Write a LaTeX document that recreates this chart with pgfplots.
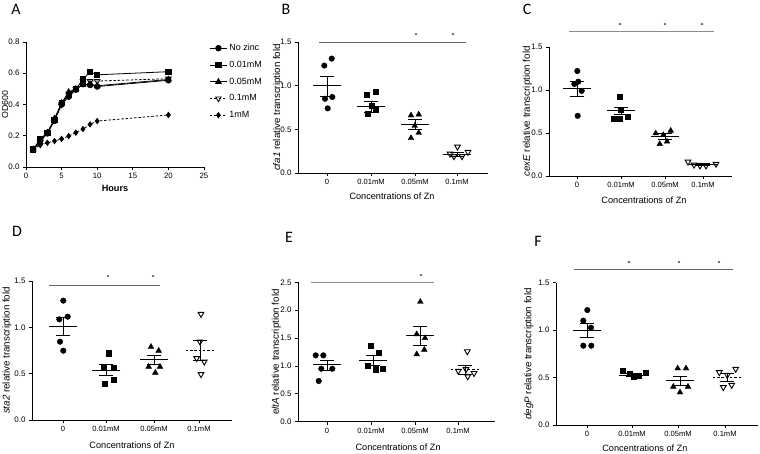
\documentclass[border=0pt]{standalone}
\usepackage{pgfplots}
\usepackage{pgfplotstable}
\pgfplotsset{compat=1.18}
\usepackage{fontspec}
\setmainfont{Liberation Sans}
\newfontfamily\letterfont{Carlito}

\pgfplotstableread{
t   nz     c01    c05    c1     m1
1   0.113  0.113  0.113  0.113  0.113
2   0.17   0.18   0.16   0.16   0.14
3   0.215  0.22   0.22   0.22   0.155
4   0.295  0.30   0.31   0.30   0.166
5   0.40   0.41   0.41   0.40   0.18
6   0.45   0.46   0.48   0.47   0.198
7   0.495  0.50   0.50   0.50   0.22
8   0.53   0.56   0.525  0.55   0.243
9   0.525  0.61   0.53   0.55   0.273
10  0.515  0.59   0.52   0.55   0.294
20  0.555  0.61   0.56   0.565  0.333
}\growth

\pgfplotsset{
  panel/.style={
    scale only axis, anchor=south west, axis lines=left,
    axis line style={-, line width=0.8bp},
    enlargelimits=false, clip=false, tick align=outside, major tick length=3bp,
    tick style={black, line width=0.8bp},
    /pgf/number format/assume math mode=true,
    yticklabel style={font=\fontsize{8}{9}\selectfont, /pgf/number format/fixed,
      /pgf/number format/fixed zerofill, /pgf/number format/precision=1},
    xticklabel style={font=\fontsize{7.6}{9}\selectfont},
    ylabel style={font=\fontsize{9.8}{11}\selectfont, anchor=center},
    xlabel style={font=\fontsize{9.2}{10}\selectfont, anchor=center},
  },
  cat/.style={panel, ymin=0, xticklabels={0,0.01mM,0.05mM,0.1mM},
    xlabel={Concentrations of Zn}},
  pc/.style={only marks, mark=*, mark size=2.8bp, black},
  ps/.style={only marks, mark=square*, mark size=2.6bp, black},
  pt/.style={only marks, mark=triangle*, mark size=3.3bp, black},
  pd/.style={only marks, mark=triangle, mark size=3.3bp, black, mark options={rotate=180, fill=white, line width=0.9bp}},
  mean/.style={only marks, mark=-, mark size=14bp, black, mark options={line width=1bp}},
  meand/.style={only marks, mark=-, mark size=14bp, black, mark options={line width=1bp, dash pattern=on 2.5bp off 1.8bp}},
  cap/.style={only marks, mark=-, mark size=7bp, black, mark options={line width=1bp}},
  semv/.style={black, line width=1bp, unbounded coords=jump},
  sig/.style={black!60, line width=0.8bp},
  star/.style={only marks, mark=asterisk, mark size=1.3bp, black!70},
}

\begin{document}
\begin{tikzpicture}
\path[use as bounding box] (0,0) rectangle (760bp,454bp);

% ---------- A ----------
\begin{axis}[panel, at={(26bp,287bp)}, width=178bp, height=125bp,
  xmin=0, xmax=25, ymin=0, ymax=0.8, xtick={0,5,10,15,20,25}, ytick={0,0.2,0.4,0.6,0.8},
  xticklabel style={font=\fontsize{7.8}{9}\selectfont},
  xlabel={\textbf{Hours}}, ylabel={OD600},
  xlabel style={at={(axis description cs:0.5,-0.168)}, font=\fontsize{9.2}{10}\selectfont},
  ylabel style={at={(axis description cs:-0.118,0.5)}, font=\fontsize{8.8}{10}\selectfont},
  legend style={at={(1.03,1.0)}, anchor=north west, draw=none, fill=none,
    font=\fontsize{9}{10}\selectfont, row sep=5bp, inner sep=0pt},
  legend cell align=left]
\addplot[black, line width=0.8bp, mark=*, mark size=2.8bp] table[x=t, y=nz] {\growth};
\addlegendentry{No zinc}
\addplot[black, line width=0.8bp, mark=square*, mark size=2.6bp] table[x=t, y=c01] {\growth};
\addlegendentry{0.01mM}
\addplot[black, line width=0.8bp, mark=triangle*, mark size=3.2bp] table[x=t, y=c05] {\growth};
\addlegendentry{0.05mM}
\addplot[black, line width=0.8bp, dash pattern=on 2.5bp off 1.8bp, mark=triangle, mark size=3.2bp, mark options={solid, rotate=180, fill=white}] table[x=t, y=c1] {\growth};
\addlegendentry{0.1mM}
\addplot[black, line width=0.8bp, dash pattern=on 2.5bp off 1.8bp, mark=diamond*, mark size=2.6bp, mark options={solid}] table[x=t, y=m1] {\growth};
\addlegendentry{1mM}
\end{axis}

% ---------- B ----------
\begin{axis}[cat, at={(298bp,281bp)}, width=190bp, height=131bp,
  xmin=298, xmax=488, ymax=1.5, xtick={327,371,415,457}, ytick={0,0.5,1,1.5},
  ylabel={\textit{cfa1} relative transcription fold},
  ylabel style={at={(axis description cs:-0.108,0.5)}},
  xlabel style={at={(axis description cs:0.495,-0.176)}}]
\addplot[sig] coordinates {(319,1.5)(466,1.5)};
\addplot[star] coordinates {(416,1.59)(453,1.59)};
\addplot[pc] coordinates {(324.3,1.23)(331.7,1.31)(325,0.85)(332.3,0.87)(327.7,0.74)};
\addplot[ps] coordinates {(366.7,0.90)(375.3,0.93)(372,0.77)(367.7,0.68)(375.3,0.73)};
\addplot[pt] coordinates {(411,0.66)(418.7,0.67)(414.7,0.54)(411,0.40)(418.7,0.46)};
\addplot[pd] coordinates {(450,0.22)(454,0.19)(457.5,0.30)(462,0.19)(468,0.24)};
\addplot[mean] coordinates {(327,1.0)(371,0.756)(415,0.553)(457,0.21)};
\addplot[cap] coordinates {(327,0.88)(327,1.11)(371,0.69)(371,0.82)(415,0.50)(415,0.61)(457,0.19)(457,0.24)};
\addplot[semv] coordinates {(327,0.88)(327,1.11)(nan,nan)(371,0.69)(371,0.82)(nan,nan)(415,0.50)(415,0.61)(nan,nan)(457,0.19)(457,0.24)};
\end{axis}

% ---------- C ----------
\begin{axis}[cat, at={(549bp,278bp)}, width=183bp, height=129bp,
  xmin=549, xmax=732, ymax=1.5, xtick={577,621,665,703}, ytick={0,0.5,1,1.5},
  ylabel={\textit{cexE} relative transcription fold},
  ylabel style={at={(axis description cs:-0.118,0.5)}},
  xlabel style={at={(axis description cs:0.519,-0.186)}}]
\addplot[sig, black!45] coordinates {(569,1.686)(714,1.686)};
\addplot[star] coordinates {(620,1.767)(665,1.767)(702,1.767)};
\addplot[pc] coordinates {(577.3,1.221)(574.3,1.07)(578.3,1.097)(581.7,0.99)(577.7,0.70)};
\addplot[ps] coordinates {(620,0.919)(620.7,0.767)(614,0.67)(620,0.663)(627.3,0.69)};
\addplot[pt] coordinates {(655.7,0.496)(663.3,0.477)(670.7,0.527)(659.7,0.372)(667,0.40)};
\addplot[pd] coordinates {(688,0.165)(694,0.13)(700,0.12)(706,0.12)(716,0.14)};
\addplot[mean] coordinates {(577,1.012)(621,0.756)(665,0.457)(703,0.13)};
\addplot[cap] coordinates {(577,0.926)(577,1.097)(621,0.71)(621,0.80)(665,0.42)(665,0.49)(703,0.12)(703,0.14)};
\addplot[semv] coordinates {(577,0.926)(577,1.097)(nan,nan)(621,0.71)(621,0.80)(nan,nan)(665,0.42)(665,0.49)(nan,nan)(703,0.12)(703,0.14)};
\end{axis}

% ---------- D ----------
\begin{axis}[cat, at={(32bp,34bp)}, width=200bp, height=139bp,
  xmin=32, xmax=232, ymax=1.5, xtick={63,106,154,199}, ytick={0,0.5,1,1.5},
  ylabel={\textit{sta2} relative transcription fold},
  ylabel style={at={(axis description cs:-0.125,0.5)}},
  xlabel style={at={(axis description cs:0.5,-0.18)}}]
\addplot[sig] coordinates {(49,1.456)(160,1.456)};
\addplot[star] coordinates {(108,1.553)(153,1.553)};
\addplot[pc] coordinates {(63.3,1.288)(59.3,1.086)(67.7,1.115)(60,0.845)(63.3,0.748)};
\addplot[ps] coordinates {(108.7,0.72)(104,0.576)(113.3,0.568)(104.3,0.388)(113.3,0.432)};
\addplot[pt] coordinates {(151,0.79)(158.7,0.748)(148.7,0.575)(160,0.575)(155.3,0.51)};
\addplot[pd] coordinates {(201,1.143)(200,0.845)(196.7,0.666)(204.3,0.629)(201,0.493)};
\addplot[mean] coordinates {(63,1.014)(106,0.532)(154,0.648)};
\addplot[meand] coordinates {(200,0.755)};
\addplot[cap] coordinates {(63,0.917)(63,1.108)(106,0.478)(106,0.594)(154,0.594)(154,0.70)(200,0.64)(200,0.863)};
\addplot[semv] coordinates {(63,0.917)(63,1.108)(nan,nan)(106,0.478)(106,0.594)(nan,nan)(154,0.594)(154,0.70)(nan,nan)(200,0.64)(200,0.863)};
\end{axis}

% ---------- E ----------
\begin{axis}[cat, at={(298bp,32.3bp)}, width=197bp, height=139.4bp,
  xmin=298, xmax=495, ymax=2.5, xtick={327,371,415,458}, ytick={0,0.5,1,1.5,2,2.5},
  ylabel={\textit{eltA} relative transcription fold},
  ylabel style={at={(axis description cs:-0.11,0.5)}},
  xlabel style={at={(axis description cs:0.508,-0.185)}}]
\addplot[sig, black!45] coordinates {(311,2.5)(434,2.5)};
\addplot[star] coordinates {(421,2.63)};
\addplot[pc] coordinates {(315.7,1.19)(323.3,1.19)(321.3,0.95)(332.3,0.95)(318.7,0.73)};
\addplot[ps] coordinates {(370.7,1.37)(378.3,1.24)(367.3,1.005)(375.7,0.94)(382.7,0.95)};
\addplot[pt] coordinates {(420.3,2.15)(416.7,1.57)(425,1.50)(416.7,1.21)(424.3,1.29)};
\addplot[pd] coordinates {(467.3,1.26)(458.3,0.91)(466,0.94)(474,0.87)(467.7,0.81)};
\addplot[mean] coordinates {(327,1.017)(373,1.094)(420,1.543)};
\addplot[meand] coordinates {(465,0.93)};
\addplot[cap] coordinates {(327,0.92)(327,1.10)(373,1.005)(373,1.18)(420,1.375)(420,1.70)(465,0.84)(465,1.01)};
\addplot[semv] coordinates {(327,0.92)(327,1.10)(nan,nan)(373,1.005)(373,1.18)(nan,nan)(420,1.375)(420,1.70)(nan,nan)(465,0.84)(465,1.01)};
\end{axis}

% ---------- F ----------
\begin{axis}[cat, at={(556bp,29bp)}, width=202bp, height=142.3bp,
  xmin=556, xmax=758, ymax=1.5, xtick={587,632,678,725}, ytick={0,0.5,1,1.5},
  ylabel={\textit{degP} relative transcription fold},
  ylabel style={at={(axis description cs:-0.135,0.5)}},
  xlabel style={at={(axis description cs:0.44,-0.165)}}]
\addplot[sig] coordinates {(574,1.644)(733,1.644)};
\addplot[star] coordinates {(629,1.718)(679,1.718)(719,1.718)};
\addplot[pc] coordinates {(587.3,1.212)(583.3,1.10)(591,1.026)(583.3,0.836)(591.3,0.836)};
\addplot[ps] coordinates {(622.7,0.573)(629.3,0.537)(634,0.51)(638.3,0.523)(645.7,0.551)};
\addplot[pt] coordinates {(677.7,0.597)(686,0.597)(673.3,0.404)(688,0.404)(680,0.344)};
\addplot[pd] coordinates {(719.3,0.555)(735.7,0.59)(727.3,0.527)(723.3,0.397)(731.7,0.421)};
\addplot[mean] coordinates {(587,1.001)(633,0.527)(680,0.467)};
\addplot[meand] coordinates {(727,0.50)};
\addplot[cap] coordinates {(587,0.924)(587,1.071)(633,0.51)(633,0.545)(680,0.414)(680,0.516)(727,0.46)(727,0.545)};
\addplot[semv] coordinates {(587,0.924)(587,1.071)(nan,nan)(633,0.51)(633,0.545)(nan,nan)(680,0.414)(680,0.516)(nan,nan)(727,0.46)(727,0.545)};
\end{axis}

% panel letters
\node[font=\letterfont\fontsize{16}{16}\selectfont] at (16bp,445bp) {A};
\node[font=\letterfont\fontsize{16}{16}\selectfont] at (286bp,445bp) {B};
\node[font=\letterfont\fontsize{16}{16}\selectfont] at (527bp,445bp) {C};
\node[font=\letterfont\fontsize{16}{16}\selectfont] at (17bp,222.5bp) {D};
\node[font=\letterfont\fontsize{16}{16}\selectfont] at (289bp,217bp) {E};
\node[font=\letterfont\fontsize{16}{16}\selectfont] at (538bp,213bp) {F};
\end{tikzpicture}
\end{document}
